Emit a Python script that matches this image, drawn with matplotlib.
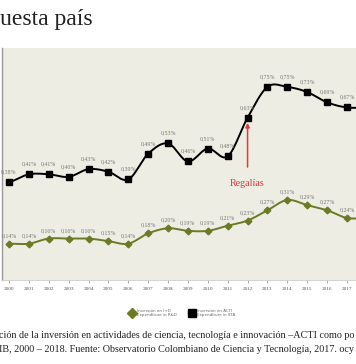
import numpy as np
import matplotlib
matplotlib.use("Agg")
import matplotlib.pyplot as plt
from matplotlib.lines import Line2D

years = list(range(2000, 2019))
acti = [0.38, 0.41, 0.41, 0.40, 0.43, 0.42, 0.39, 0.49, 0.53, 0.46,
        0.51, 0.48, 0.63, 0.75, 0.75, 0.73, 0.69, 0.67, 0.67]
idi = [0.14, 0.14, 0.16, 0.16, 0.16, 0.15, 0.14, 0.18, 0.20, 0.19,
       0.19, 0.21, 0.23, 0.27, 0.31, 0.29, 0.27, 0.24, 0.24]
acti_labels = ["0,38%", "0,41%", "0,41%", "0,40%", "0,43%", "0,42%", "0,39%", "0,49%", "0,53%",
               "0,46%", "0,51%", "0,48%", "0,63%", "0,75%", "0,75%", "0,73%", "0,69%", "0,67%", ""]
idi_labels = ["0,14%", "0,14%", "0,16%", "0,16%", "0,16%", "0,15%", "0,14%", "0,18%", "0,20%",
              "0,19%", "0,19%", "0,21%", "0,23%", "0,27%", "0,31%", "0,29%", "0,27%", "0,24%", ""]
tick_years = list(range(2000, 2018))
legend_labels = ["Inversión en I+D\nExpenditure in R&D", "Inversión en ACTI\nExpenditure in STA"]
title_text = "uesta país"
caption_lines = ["ción de la inversión en actividades de ciencia, tecnología e innovación –ACTI como po",
                 "IB, 2000 – 2018. Fuente: Observatorio Colombiano de Ciencia y Tecnología, 2017. ocy"]
arrow_label = "Regalías"
arrow_year = 2012

SERIF = ["Liberation Serif", "DejaVu Serif"]
BG = "#EDEDE3"
GREEN = "#6B7A25"


def smooth(x, y, n=24):
    x = np.asarray(x, float)
    y = np.asarray(y, float)
    xp = np.concatenate([[2 * x[0] - x[1]], x, [2 * x[-1] - x[-2]]])
    yp = np.concatenate([[y[0]], y, [y[-1]]])
    xs, ys = [], []
    t = np.linspace(0, 1, n, endpoint=False)
    for i in range(1, len(xp) - 2):
        p0, p1, p2, p3 = yp[i - 1], yp[i], yp[i + 1], yp[i + 2]
        m1 = (p2 - p0) / 2
        m2 = (p3 - p1) / 2
        h00 = 2 * t**3 - 3 * t**2 + 1
        h10 = t**3 - 2 * t**2 + t
        h01 = -2 * t**3 + 3 * t**2
        h11 = t**3 - t**2
        ys.append(h00 * p1 + h10 * m1 + h01 * p2 + h11 * m2)
        xs.append(xp[i] + t * (xp[i + 1] - xp[i]))
    xs.append([x[-1]])
    ys.append([y[-1]])
    return np.concatenate(xs), np.concatenate(ys)


fig = plt.figure(figsize=(3.56, 3.64), dpi=100, facecolor="white")
ax = fig.add_axes([2 / 356, 1 - 280 / 364, 354 / 356, 232 / 364])
ax.set_facecolor(BG)

px_per_year = 19.88
x0 = 2000 - 7 / px_per_year
x1 = 2000 + 347 / px_per_year
ax.set_xlim(x0, x1)
ax.set_ylim(-0.0013, 0.9014)

sx, sy = smooth(years, acti)
ax.plot(sx, sy, color="black", lw=1.4, zorder=3)
ax.plot(years, acti, ls="none", marker="s", ms=4.3, color="black", zorder=4)
gx, gy = smooth(years, idi)
ax.plot(gx, gy, color=GREEN, lw=1.4, zorder=3)
ax.plot(years, idi, ls="none", marker="D", ms=3.4, color=GREEN, zorder=4)

for yr, v, lab in zip(years, acti, acti_labels):
    if lab:
        ax.annotate(lab, (yr, v), xytext=(0, 7.3), textcoords="offset points",
                    ha="center", va="center", fontsize=4.2, color="#777777", family=SERIF)
for yr, v, lab in zip(years, idi, idi_labels):
    if lab:
        ax.annotate(lab, (yr, v), xytext=(0, 5.8), textcoords="offset points",
                    ha="center", va="center", fontsize=4.2, color="#777777", family=SERIF)

ax.annotate("", xy=(arrow_year, 0.610), xytext=(arrow_year, 0.438),
            arrowprops=dict(arrowstyle="-|>", color="#E23B3B", lw=1.1,
                            mutation_scale=6, shrinkA=0, shrinkB=0))
ax.text(arrow_year, 0.376, arrow_label, ha="center", va="center", fontsize=7.2,
        color="#D8383B", family=SERIF)

ax.set_xticks(tick_years)
ax.set_xticklabels([str(t) for t in tick_years], family=SERIF, fontsize=3.8, color="#555555")
ax.tick_params(axis="x", length=2, width=0.5, color="#888888", pad=3)
ax.set_yticks([])
for s in ["top", "right"]:
    ax.spines[s].set_visible(False)
ax.spines["left"].set_color("#999999")
ax.spines["left"].set_linewidth(1.0)
ax.spines["bottom"].set_color("#cccccc")
ax.spines["bottom"].set_linewidth(0.6)

handles = [Line2D([], [], color=GREEN, marker="D", ms=5.5, lw=1.6),
           Line2D([], [], color="black", marker="s", ms=6, lw=1.6)]
fig.legend(handles, legend_labels, loc="center", bbox_to_anchor=(0.512, 1 - 313 / 364),
           ncol=2, frameon=False, fontsize=2.9, handlelength=1.3, columnspacing=3.0,
           handletextpad=0.6, labelcolor="#666666")

fig.text(0.0, 1 - 20 / 364, title_text, ha="left", va="center", fontsize=17,
         color="#222222", family=SERIF)
fig.text(-0.003, 1 - 335 / 364, caption_lines[0], ha="left", va="center", fontsize=7.3,
         color="#222222", family=SERIF)
fig.text(-0.003, 1 - 349 / 364, caption_lines[1], ha="left", va="center", fontsize=7.3,
         color="#222222", family=SERIF)

fig.savefig("out.png", dpi=100, facecolor="white")
